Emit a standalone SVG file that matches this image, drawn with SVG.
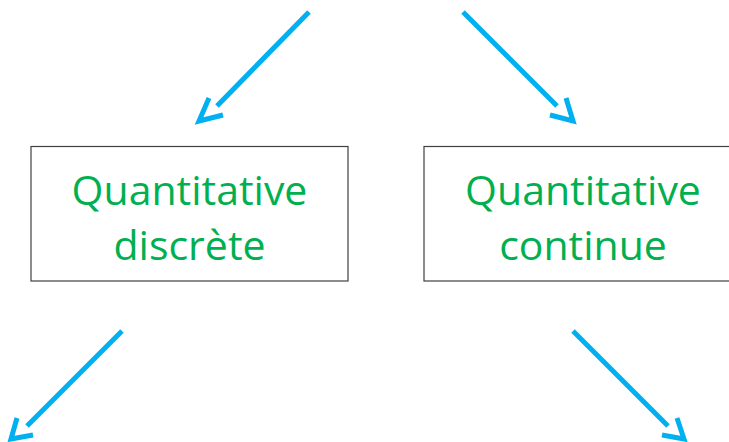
<svg xmlns="http://www.w3.org/2000/svg" width="729" height="442" viewBox="0 0 729 442">
<style>
.box{fill:#fff;stroke:#404040;stroke-width:1.2}
.lbl{font-family:"Open Sans","Liberation Sans",sans-serif;font-size:41px;fill:#00B050;text-anchor:middle}
.arr{stroke:#00B0F0;stroke-width:5;fill:none;stroke-linecap:butt}
</style>
<rect width="729" height="442" fill="#fff"/>
<g id="connectors">
<path class="arr" d="M309,12 L217,106"/>
<path class="arr" d="M209,98 L199,121 L223,115"/>
<path class="arr" d="M463,12 L557,106"/>
<path class="arr" d="M566,98 L573,121 L550,115"/>
<path class="arr" d="M122,331 L27,426"/>
<path class="arr" d="M17,418 L11,439 L33,435"/>
<path class="arr" d="M573,331 L668,426"/>
<path class="arr" d="M677,418 L684,439 L662,435"/>
</g>
<g id="node-discrete">
<rect class="box" x="31" y="146.5" width="317" height="134.5"/>
<text class="lbl" x="189.5" y="205">Quantitative</text>
<text class="lbl" x="189.5" y="260">discrète</text>
</g>
<g id="node-continue">
<rect class="box" x="424" y="146.5" width="310" height="134.5"/>
<text class="lbl" x="583" y="205">Quantitative</text>
<text class="lbl" x="583" y="260">continue</text>
</g>
</svg>
